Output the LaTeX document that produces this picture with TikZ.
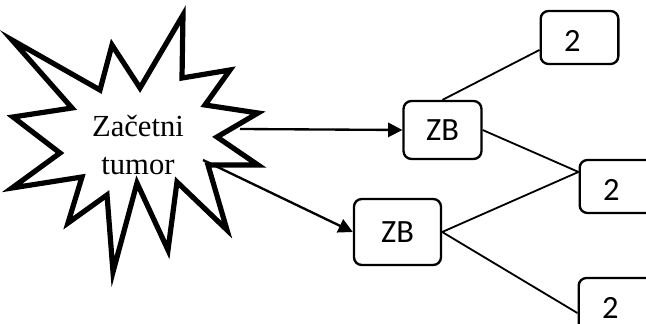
\documentclass[tikz,border=0pt]{standalone}
\usepackage{fontspec}
\setmainfont{Liberation Serif}
\newfontfamily\boxfont{Carlito}
\usetikzlibrary{arrows.meta}

\tikzset{
  zbbox/.style={draw, line width=0.9pt, rounded corners=3pt, font=\boxfont\fontsize{12.5}{14}\selectfont},
  twobox/.style={zbbox, text width=11.9pt, inner xsep=9pt, align=left, minimum height=20.4pt, text height=11pt, text depth=0pt},
  edgeline/.style={line width=0.7pt},
  spawnarrow/.style={line width=0.9pt, -{Triangle[length=5.5pt,width=5.5pt]}}
}

\begin{document}
\begin{tikzpicture}[x=0.385pt, y=-0.385pt]

\useasboundingbox (0,0) rectangle (646,324);
\clip (0,0) rectangle (646,324);

\draw[line width=2pt, line join=miter, fill=white]
  (12,40) -- (100,90) -- (112,45) -- (140,88) -- (183,15) -- (182,78)
  -- (230,70) -- (205,105) -- (258,113) -- (217,137) -- (258,165)
  -- (208,165) -- (227,230) -- (177,182) -- (168,250) -- (137,183)
  -- (113,272) -- (107,195) -- (68,223) -- (82,177) -- (12,188)
  -- (60,153) -- (13,117) -- (72,108) -- cycle;

\node[align=center, font=\fontsize{11.8}{15}\selectfont] (tumor) at (138,145) {Začetni\\tumor};

\coordinate (tumorR) at (240,129);
\coordinate (tumorL) at (203,160);

\node[zbbox, minimum width=30pt, minimum height=22.3pt] (zbA) at (442.5,130) {ZB};
\node[zbbox, minimum width=33.5pt, minimum height=25.4pt] (zbB) at (397.5,232) {ZB};

\node[twobox] (twoA) at (579.5,37.5) {2};
\node[twobox] (twoB) at (618.5,186.5) {2};
\node[twobox] (twoC) at (617.5,304.5) {2};

\coordinate (inA) at ([yshift=-4.8pt]twoA.west);
\coordinate (inB) at ([yshift=5.6pt]twoB.west);
\coordinate (inC) at ([yshift=-3.3pt]twoC.west);

\draw[spawnarrow] (tumorR) -- (zbA.west);
\draw[spawnarrow] (tumorL) -- (zbB.west);

\draw[edgeline] (zbA.north) -- (inA);
\draw[edgeline] (zbA.east) -- (inB);
\draw[edgeline] (zbB.east) -- (inB);
\draw[edgeline] (zbB.east) -- (inC);

\end{tikzpicture}
\end{document}
